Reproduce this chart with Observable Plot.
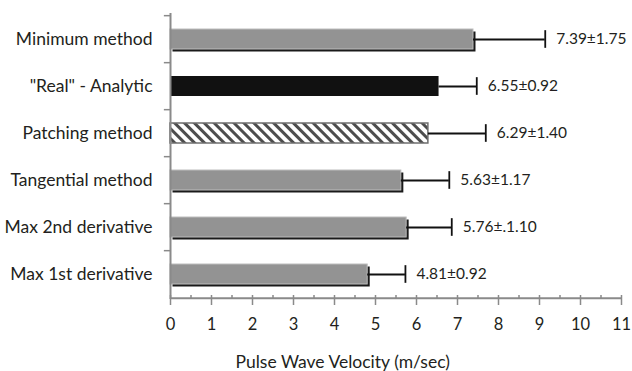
<!DOCTYPE html>
<html>
<head>
<meta charset="utf-8">
<script src="https://cdn.jsdelivr.net/npm/d3@7"></script>
<script src="https://cdn.jsdelivr.net/npm/@observablehq/plot@0.6"></script>
<style>
  html, body { margin: 0; padding: 0; background: #fff; }
</style>
</head>
<body>
<div id="chart"></div>
<script>
const categories = ["Minimum method", "\"Real\" - Analytic", "Patching method", "Tangential method", "Max 2nd derivative", "Max 1st derivative"];
const means = [7.39, 6.55, 6.29, 5.63, 5.76, 4.81];
const sds = [1.75, 0.92, 1.40, 1.17, 1.10, 0.92];
const valueLabels = ["7.39±1.75", "6.55±0.92", "6.29±1.40", "5.63±1.17", "5.76±.1.10", "4.81±0.92"];
const styles = ["gray", "black", "hatch", "gray", "gray", "gray"];
const majorTicks = [0, 1, 2, 3, 4, 5, 6, 7, 8, 9, 10, 11];
const minorTicks = [0.5, 1.5, 2.5, 3.5, 4.5, 5.5, 6.5, 7.5, 8.5, 9.5, 10.5];
const xLabel = "Pulse Wave Velocity (m/sec)";

const rows = categories.map((c, i) => ({cat: c, mean: means[i], sd: sds[i], hi: means[i] + sds[i], label: valueLabels[i], style: styles[i]}));

const W = 632, H = 371, mt = 13, mb = 72, ml = 170, mr = 11;
const step = (H - mt - mb) / categories.length;
const axisGray = "#8a8a8a";
const font = "Lato, 'Open Sans', sans-serif";

const plot = Plot.plot({
  width: W, height: H,
  marginTop: mt, marginBottom: mb, marginLeft: ml, marginRight: mr,
  style: {fontFamily: font, fontSize: "16px", color: "#231f20", background: "#fff"},
  x: {domain: [0, 11], axis: null},
  y: {domain: categories, paddingInner: 0.58, paddingOuter: 0.29, axis: null},
  marks: [
    Plot.axisY({tickSize: 0, tickPadding: 18, fontSize: 17.5, label: null}),
    Plot.ruleY(categories, {y: d => d, x1: -0.15, x2: 0, dy: -step / 2, stroke: axisGray, strokeWidth: 1.5}),
    Plot.barX(rows.filter(d => d.style === "gray"), {y: "cat", x1: 0, x2: "mean", fill: "#1a1a1a", dx: 2.5, dy: 2.5}),
    Plot.barX(rows.filter(d => d.style === "gray"), {y: "cat", x1: 0, x2: "mean", fill: "#939393", stroke: "#bdbdbd", strokeWidth: 1}),
    Plot.barX(rows.filter(d => d.style === "black"), {y: "cat", x1: 0, x2: "mean", fill: "#111"}),
    Plot.barX(rows.filter(d => d.style === "hatch"), {y: "cat", x1: 0, x2: "mean", fill: "url(#hatch)", stroke: "#6e6e6e", strokeWidth: 1.5}),
    Plot.ruleY(rows, {y: "cat", x1: "mean", x2: "hi", stroke: "#111", strokeWidth: 1.8}),
    Plot.tickX(rows, {y: "cat", x: "hi", stroke: "#111", strokeWidth: 1.8, insetTop: (step - 10) / 2, insetBottom: (step - 10) / 2}),
    Plot.text(rows, {y: "cat", x: "hi", text: "label", textAnchor: "start", dx: 11, fontSize: 15.5, fill: "#231f20"}),
    Plot.ruleX([0], {stroke: axisGray, strokeWidth: 2}),
    Plot.ruleY([categories[categories.length - 1]], {x1: 0, x2: 11, dy: step / 2, stroke: axisGray, strokeWidth: 2}),
    Plot.tickX(majorTicks, {x: d => d, insetTop: (H - mt - mb) - 4, insetBottom: -6, stroke: axisGray, strokeWidth: 1.5}),
    Plot.tickX(minorTicks, {x: d => d, insetTop: (H - mt - mb) - 4, insetBottom: 0, stroke: axisGray, strokeWidth: 1.5}),
    Plot.axisX(majorTicks, {tickSize: 0, tickPadding: 19, fontSize: 16.5, label: null}),
    Plot.text([xLabel], {frameAnchor: "bottom-left", x: 4.2, dy: 63, lineAnchor: "middle", fontSize: 17.5, textAnchor: "middle", fill: "#231f20"})
  ]
});

const svg = d3.select(plot);
const defs = svg.insert("defs", ":first-child");
const pat = defs.append("pattern")
  .attr("id", "hatch")
  .attr("patternUnits", "userSpaceOnUse")
  .attr("width", 7).attr("height", 7)
  .attr("patternTransform", "rotate(-45)");
pat.append("rect").attr("width", 7).attr("height", 7).attr("fill", "#fff");
pat.append("rect").attr("x", 0).attr("y", 0).attr("width", 3).attr("height", 7).attr("fill", "#4d4d4d");

document.getElementById("chart").appendChild(plot);
</script>
</body>
</html>
